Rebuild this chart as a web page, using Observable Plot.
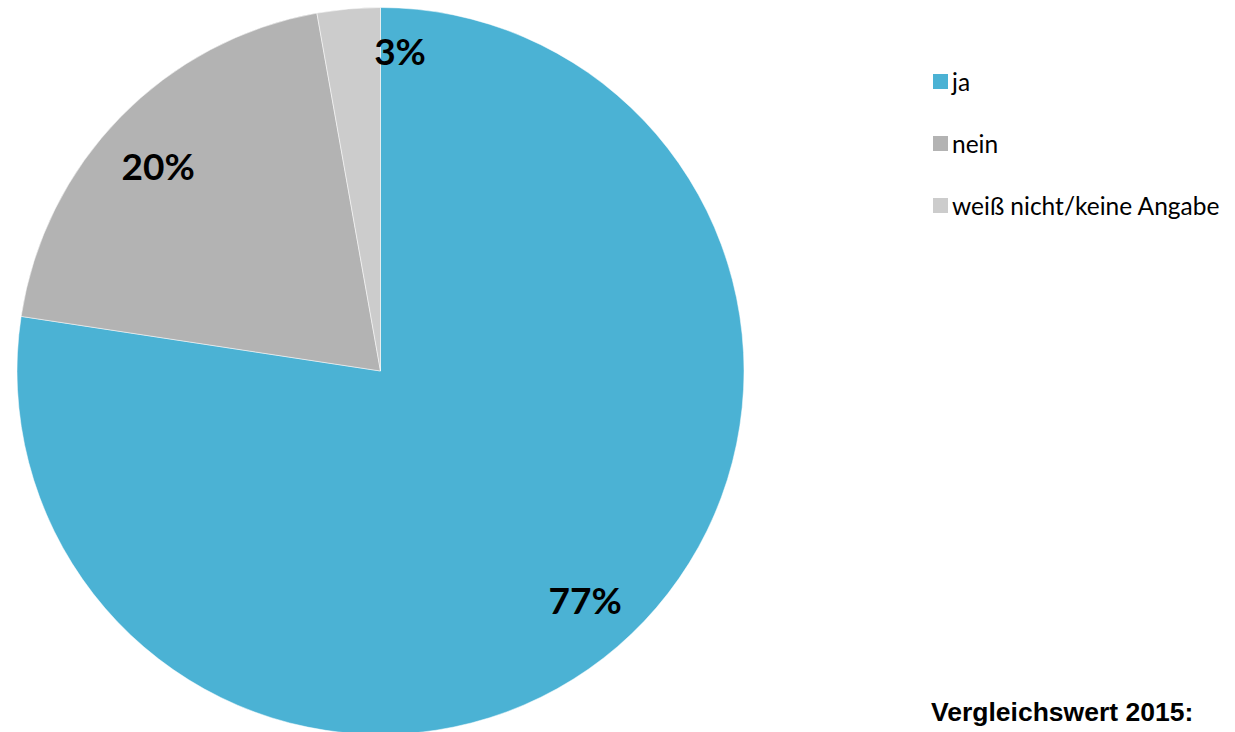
<!DOCTYPE html>
<html><head><meta charset="utf-8">
<script src="https://cdn.jsdelivr.net/npm/d3@7"></script>
<script src="https://cdn.jsdelivr.net/npm/@observablehq/plot@0.6"></script>
<style>
html,body{margin:0;padding:0;background:#fff;}
#wrap{position:relative;width:1235px;height:732px;overflow:hidden;}
#legend{position:absolute;left:933px;top:66px;font-family:Lato,"Open Sans",sans-serif;font-size:24.5px;color:#000;}
.row{display:flex;align-items:center;height:30px;margin-bottom:32px;white-space:nowrap;}
.sw{width:15px;height:15px;margin-right:4px;flex:none;}
#caption{position:absolute;left:931px;top:697px;font-family:"Liberation Sans",Arial,sans-serif;font-weight:bold;font-size:26.5px;line-height:30px;color:#000;white-space:nowrap;}
</style></head><body><div id="wrap"></div>
<script>
const categories = ["ja", "nein", "weiß nicht/keine Angabe"];
const values = [77.4, 19.8, 2.8];
const colors = ["#4BB2D4", "#B3B3B3", "#CCCCCC"];
const labels = ["77%", "20%", "3%"];
const caption = "Vergleichswert 2015:";

const data = categories.map((c, i) => ({category: c, value: values[i], label: labels[i]}));
const arcs = d3.pie().sort(null).value(d => d.value)(data);
const colorScale = Plot.scale({color: {type: "ordinal", domain: categories, range: colors}});
const mid = a => (a.startAngle + a.endAngle) / 2;
const labelR = 0.845;
// label nudges (style), per slice index, as Excel's best-fit placement
const nudges = [{dx: 4, dy: -2}, {dx: -3, dy: 11}, {dx: 46, dy: -13}];

function slices(index, scales) {
  const {x, y} = scales;
  const cx = x(0), cy = y(0), r = Math.abs(x(1) - x(0));
  const g = d3.create("svg:g").attr("transform", `translate(${cx},${cy})`);
  const arc = d3.arc().innerRadius(0).outerRadius(r);
  g.selectAll("path").data(arcs).join("path")
    .attr("d", arc)
    .attr("fill", d => colorScale.apply(d.data.category))
    .attr("stroke", "#fff").attr("stroke-width", 1).attr("stroke-opacity", 0.5);
  return g.node();
}

const textOpts = {
  x: d => Math.sin(mid(d)) * labelR,
  y: d => Math.cos(mid(d)) * labelR,
  text: d => d.data.label,
  fontFamily: "Lato, 'Open Sans', sans-serif",
  fontWeight: "bold",
  fontSize: 37,
  fill: "#000"
};

const plot = Plot.plot({
  width: 1235,
  height: 732,
  margin: 0,
  x: {domain: [-1, 1], range: [17, 744], axis: null},
  y: {domain: [-1, 1], range: [734, 8], axis: null},
  marks: [
    slices,
    ...arcs.map((a, i) => Plot.text([a], {...textOpts, ...nudges[i]}))
  ]
});
const wrap = document.getElementById("wrap");
wrap.appendChild(plot);

const legend = document.createElement("div");
legend.id = "legend";
categories.forEach(c => {
  const row = document.createElement("div");
  row.className = "row";
  const sw = document.createElement("span");
  sw.className = "sw";
  sw.style.background = colorScale.apply(c);
  const t = document.createElement("span");
  t.textContent = c;
  row.appendChild(sw); row.appendChild(t);
  legend.appendChild(row);
});
wrap.appendChild(legend);

const cap = document.createElement("div");
cap.id = "caption";
cap.textContent = caption;
wrap.appendChild(cap);
</script>
</body></html>
